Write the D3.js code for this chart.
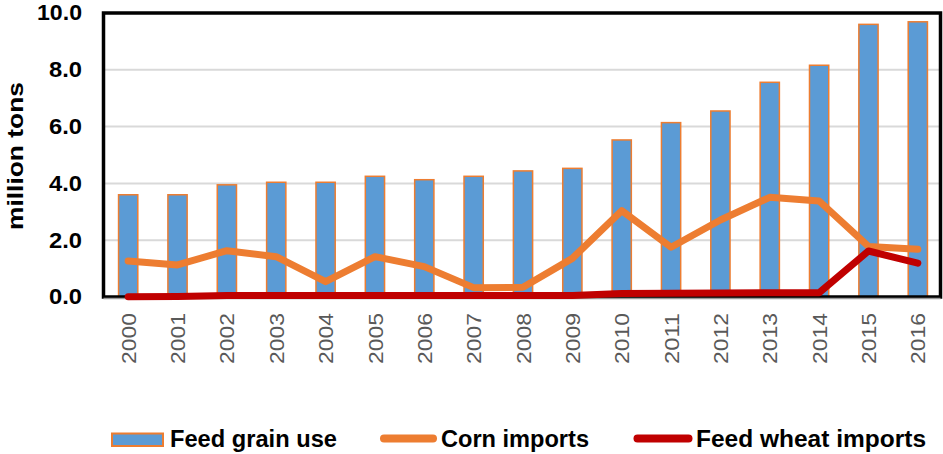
<!DOCTYPE html>
<html><head><meta charset="utf-8">
<script src="https://cdn.jsdelivr.net/npm/d3@7"></script>
<style>body{margin:0;background:#fff}svg{display:block}text{font-family:"Liberation Sans",Arial,sans-serif}</style>
</head><body><svg id="c" width="943" height="454"></svg>
<script>
const years = ["2000","2001","2002","2003","2004","2005","2006","2007","2008","2009","2010","2011","2012","2013","2014","2015","2016"];
const feedGrainUse = [3.6,3.6,3.95,4.04,4.04,4.25,4.13,4.25,4.44,4.53,5.53,6.14,6.55,7.56,8.16,9.6,9.69];
const cornImports = [1.27,1.13,1.63,1.42,0.54,1.42,1.07,0.33,0.34,1.36,3.04,1.75,2.71,3.51,3.38,1.78,1.68];
const feedWheatImports = [0.01,0.02,0.05,0.05,0.05,0.05,0.05,0.05,0.05,0.05,0.12,0.13,0.14,0.15,0.15,1.62,1.19];
const yTicks = [0,2,4,6,8,10];
const seriesNames = ["Feed grain use","Corn imports","Feed wheat imports"];

const BLUE = "#5B9BD5", ORANGE = "#ED7D31", RED = "#C00000";
const svg = d3.select("#c");
const plot = {l:103.5, r:940.5, t:13, b:297};

const x = d3.scaleBand().domain(years).range([103.5, 942.5]).paddingInner(0.61).paddingOuter(0.305);
const y = d3.scaleLinear().domain([0,10]).range([plot.b, plot.t]);

// gridlines
svg.append("g").selectAll("line").data(yTicks.filter(d=>d>0&&d<10)).join("line")
  .attr("x1", plot.l).attr("x2", plot.r).attr("y1", d=>y(d)).attr("y2", d=>y(d))
  .attr("stroke","#d9d9d9").attr("stroke-width",2);

// bars
svg.append("g").selectAll("rect").data(years).join("rect")
  .attr("x", d=>x(d)).attr("width", x.bandwidth())
  .attr("y", (d,i)=>y(feedGrainUse[i])).attr("height",(d,i)=>y(0)-y(feedGrainUse[i]))
  .attr("fill", BLUE).attr("stroke", ORANGE).attr("stroke-width",1.5);

// frame
svg.append("rect").attr("x",plot.l).attr("y",plot.t).attr("width",plot.r-plot.l).attr("height",plot.b-plot.t)
  .attr("fill","none").attr("stroke","#000").attr("stroke-width",3.5);
svg.append("line").attr("x1",plot.l).attr("x2",plot.r).attr("y1",plot.b+1.5).attr("y2",plot.b+1.5)
  .attr("stroke","#9a9a9a").attr("stroke-width",1.5);

const line = d3.line().x((d,i)=>x(years[i])+x.bandwidth()/2).y(d=>y(d));
svg.append("path").attr("d", line(cornImports)).attr("fill","none").attr("stroke",ORANGE)
  .attr("stroke-width",7).attr("stroke-linejoin","round").attr("stroke-linecap","round");
svg.append("path").attr("d", line(feedWheatImports)).attr("fill","none").attr("stroke",RED)
  .attr("stroke-width",7).attr("stroke-linejoin","round").attr("stroke-linecap","round");

// y axis labels
const yAxis = d3.axisLeft(y).tickValues(yTicks).tickFormat(d3.format(".1f")).tickSize(0).tickPadding(0);
const ya = svg.append("g").attr("transform","translate(82,0)").call(yAxis);
ya.select(".domain").remove();
ya.selectAll("text").attr("font-size",21.5).attr("font-weight","bold").attr("fill","#000")
  .attr("font-family","'Liberation Sans',Arial,sans-serif")
  .attr("textLength", d=>d>=10?45:33).attr("lengthAdjust","spacingAndGlyphs");

// x axis labels
svg.append("g").selectAll("text").data(years).join("text")
  .attr("transform", d=>`translate(${x(d)+x.bandwidth()/2},313) rotate(-90)`)
  .attr("text-anchor","end").attr("dy","0.36em")
  .attr("font-size",21).attr("fill","#595959")
  .attr("textLength",51).attr("lengthAdjust","spacingAndGlyphs")
  .text(d=>d);

// y title
svg.append("text").attr("transform","translate(15,156) rotate(-90)")
  .attr("text-anchor","middle").attr("dy","0.36em")
  .attr("font-size",22).attr("font-weight","bold").attr("fill","#000")
  .attr("textLength",148).attr("lengthAdjust","spacingAndGlyphs")
  .text("million tons");

// legend
const lg = svg.append("g");
lg.append("rect").attr("x",112).attr("y",433.5).attr("width",51).attr("height",12.5)
  .attr("fill",BLUE).attr("stroke",ORANGE).attr("stroke-width",2);
lg.append("line").attr("x1",384).attr("x2",433).attr("y1",438.5).attr("y2",438.5)
  .attr("stroke",ORANGE).attr("stroke-width",8).attr("stroke-linecap","round");
lg.append("line").attr("x1",637.5).attr("x2",688.5).attr("y1",438.5).attr("y2",438.5)
  .attr("stroke",RED).attr("stroke-width",8).attr("stroke-linecap","round");
const legPos = [{x:170,w:167},{x:441,w:148},{x:696,w:230}];
lg.selectAll("text.l").data(seriesNames).join("text").attr("class","l")
  .attr("x",(d,i)=>legPos[i].x).attr("y",446.5)
  .attr("font-size",23).attr("font-weight","bold").attr("fill","#000")
  .attr("textLength",(d,i)=>legPos[i].w).attr("lengthAdjust","spacingAndGlyphs")
  .text(d=>d);
</script></body></html>
